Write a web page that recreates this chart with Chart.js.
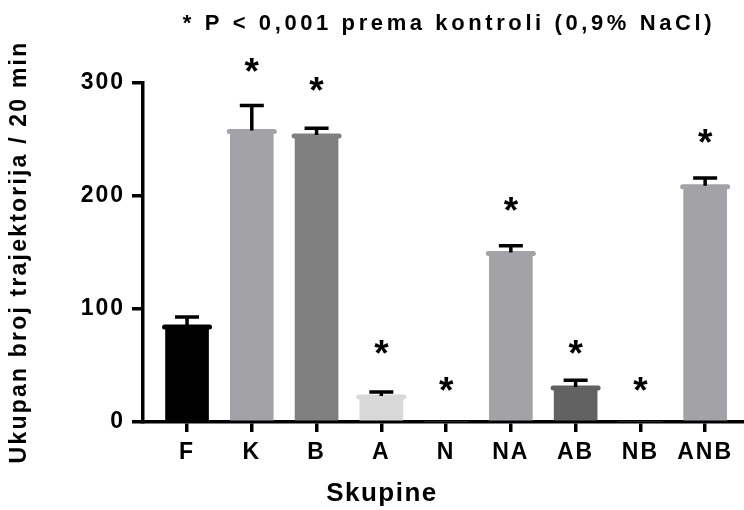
<!DOCTYPE html>
<html>
<head>
<meta charset="utf-8">
<script src="https://cdn.jsdelivr.net/npm/chart.js@4/dist/chart.umd.min.js"></script>
<style>
  html, body { margin: 0; padding: 0; background: #fff; }
  #wrap { width: 744px; height: 510px; }
</style>
</head>
<body>
<div id="wrap"><canvas id="myChart" width="744" height="510"></canvas></div>
<script>
const groups = ['F', 'K', 'B', 'A', 'N', 'NA', 'AB', 'NB', 'ANB'];
const means = [85, 258, 254, 23, 0, 150, 31, 0, 209];
const sem = [8, 22, 6, 3.5, 0, 6, 6, 0, 7];
// where the significance star sits (y value of its centre), null = no star
const starAt = [null, 318, 301, 68, 35, 195, 68, 35, 255];
const colors = ['#000000', '#a3a2a7', '#808080', '#d8d8d8', '#a3a2a7', '#a3a2a7', '#626262', '#a3a2a7', '#a3a2a7'];
const yTicks = [0, 100, 200, 300];

const FONT = '"Liberation Sans", Arial, sans-serif';

const extras = {
  id: 'extras',
  beforeDraw(chart) {
    chart.ctx.letterSpacing = '2px';
  },
  afterDatasetsDraw(chart) {
    const ctx = chart.ctx;
    const meta = chart.getDatasetMeta(0);
    const y = chart.scales.y;
    ctx.save();
    meta.data.forEach((bar, i) => {
      if (means[i] <= 0) return;
      const half = bar.width / 2;
      const top = y.getPixelForValue(means[i]);
      // GraphPad-style rounded cap on the bar top
      ctx.strokeStyle = colors[i];
      ctx.lineWidth = 5;
      ctx.lineCap = 'round';
      ctx.beginPath();
      ctx.moveTo(bar.x - half - 1, top + 1);
      ctx.lineTo(bar.x + half + 1, top + 1);
      ctx.stroke();
      // error bar (upper only)
      if (sem[i] > 0) {
        const eTop = y.getPixelForValue(means[i] + sem[i]);
        ctx.strokeStyle = '#000';
        ctx.lineWidth = 3.5;
        ctx.lineCap = 'butt';
        ctx.beginPath();
        ctx.moveTo(bar.x, top);
        ctx.lineTo(bar.x, eTop);
        ctx.moveTo(bar.x - 12, eTop);
        ctx.lineTo(bar.x + 12, eTop);
        ctx.stroke();
      }
    });
    ctx.restore();
  },
  afterDraw(chart) {
    const ctx = chart.ctx;
    const meta = chart.getDatasetMeta(0);
    const y = chart.scales.y;
    ctx.save();
    ctx.fillStyle = '#000';
    ctx.textAlign = 'center';
    ctx.textBaseline = 'alphabetic';
    ctx.letterSpacing = '0px';
    ctx.font = 'bold 37px ' + FONT;
    meta.data.forEach((bar, i) => {
      if (starAt[i] === null) return;
      ctx.fillText('*', bar.x, y.getPixelForValue(starAt[i]) + 21);
    });
    // title
    ctx.font = 'bold 22px ' + FONT;
    ctx.letterSpacing = '3.6px';
    ctx.textBaseline = 'middle';
    ctx.fillText('* P < 0,001 prema kontroli (0,9% NaCl)', 449, 24);
    // x axis title
    ctx.font = 'bold 26px ' + FONT;
    ctx.letterSpacing = '1.5px';
    ctx.fillText('Skupine', 382, 494);
    // y axis title
    ctx.translate(20, 252);
    ctx.rotate(-Math.PI / 2);
    ctx.font = 'bold 23px ' + FONT;
    ctx.letterSpacing = '2.2px';
    ctx.fillText('Ukupan broj trajektorija / 20 min', 0, 0);
    ctx.restore();
  }
};

const data = {
  datasets: [{
    label: 'Skupine',
    data: means.map((v, i) => ({ x: i, y: v })),
    backgroundColor: colors,
    barThickness: 43,
    borderWidth: 0
  }]
};

const config = {
  type: 'bar',
  data: data,
  options: {
    responsive: false,
    animation: false,
    layout: { padding: { top: 83, right: 0, left: 0, bottom: 0 } },
    plugins: { legend: { display: false }, tooltip: { enabled: false } },
    scales: {
      x: {
        type: 'linear',
        min: -0.68,
        max: 8.6,
        offset: false,
        afterFit: s => { s.height = 88; },
        border: { color: '#000', width: 3.5 },
        grid: { offset: false, drawOnChartArea: false, drawTicks: true, tickLength: 10, color: '#000', lineWidth: 3.5 },
        ticks: {
          stepSize: 1,
          includeBounds: false,
          autoSkip: false,
          maxRotation: 0,
          padding: 7,
          color: '#000',
          font: { family: FONT, size: 23, weight: 'bold' },
          callback: v => groups[v] ?? ''
        }
      },
      y: {
        min: 0,
        max: 300,
        afterFit: s => { s.width = 143; },
        afterBuildTicks: s => { s.ticks = yTicks.map(v => ({ value: v })); },
        border: { color: '#000', width: 3.5 },
        grid: { drawOnChartArea: false, drawTicks: true, tickLength: 11, color: '#000', lineWidth: 3.5 },
        ticks: {
          padding: 7,
          color: '#000',
          font: { family: FONT, size: 23, weight: 'bold' }
        }
      }
    }
  },
  plugins: [extras]
};
const myChart = new Chart(document.getElementById('myChart'), config);
</script>
</body>
</html>
